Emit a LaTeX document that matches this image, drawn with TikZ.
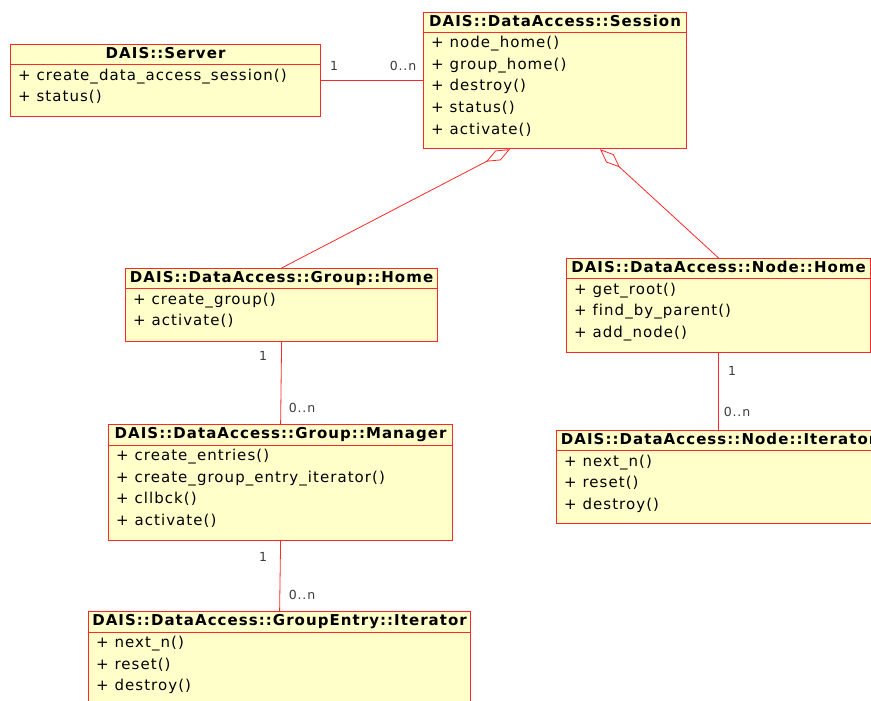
\documentclass[tikz,border=0pt]{standalone}
\usepackage{fontspec}
\setmainfont[LetterSpace=7, Ligatures=NoCommon]{DejaVu Sans}
\usetikzlibrary{arrows.meta,calc}

\definecolor{umlred}{RGB}{255,40,40}
\definecolor{umlfill}{RGB}{255,255,202}
\definecolor{multgray}{RGB}{60,60,60}

\begin{document}
\begin{tikzpicture}[x=1pt, y=-1pt,
    classbox/.style={draw=umlred, fill=umlfill, line width=1.2pt, anchor=north west, inner sep=0pt},
    classname/.style={font=\fontsize{15}{18}\selectfont\bfseries, anchor=base, inner sep=0pt},
    classop/.style={font=\fontsize{15}{18}\selectfont, anchor=base west, inner sep=0pt},
    sepline/.style={draw=umlred, line width=1.2pt},
    assoc/.style={draw=umlred, line width=0.8pt},
    mult/.style={font=\fontsize{12.5}{15}\selectfont, text=multgray, inner sep=0pt}]

	\useasboundingbox (0,0) rectangle (871,701);
	\clip (0,0) rectangle (871,701);

	% Server
	\node[classbox, minimum width=310pt, minimum height=72pt] (server) at (10,44) {};
	\node[classname] (server-name) at ($(server.north)+(0,14.5)$) {DAIS::Server};
	\draw[sepline] ($(server.north west)+(0,20.5)$) -- ($(server.north east)+(0,20.5)$);
	\foreach \op [count=\i] in {create\_data\_access\_session(), status()}
		\node[classop] (server-op\i) at ($(server.north west)+(8,{36.5+21.5*(\i-1)})$) {+ \op};

	% Session
	\node[classbox, minimum width=263pt, minimum height=136pt] (session) at (423,12) {};
	\node[classname] (session-name) at ($(session.north)+(0,14.5)$) {DAIS::DataAccess::Session};
	\draw[sepline] ($(session.north west)+(0,20.5)$) -- ($(session.north east)+(0,20.5)$);
	\foreach \op [count=\i] in {node\_home(), group\_home(), destroy(), status(), activate()}
		\node[classop] (session-op\i) at ($(session.north west)+(8,{36+21.5*(\i-1)})$) {+ \op};

	% Group home
	\node[classbox, minimum width=312pt, minimum height=73pt] (grouphome) at (125,268) {};
	\node[classname] (grouphome-name) at ($(grouphome.north)+(0,14.5)$) {DAIS::DataAccess::Group::Home};
	\draw[sepline] ($(grouphome.north west)+(0,20.5)$) -- ($(grouphome.north east)+(0,20.5)$);
	\foreach \op [count=\i] in {create\_group(), activate()}
		\node[classop] (grouphome-op\i) at ($(grouphome.north west)+(8,{36+21.5*(\i-1)})$) {+ \op};

	% Node home
	\node[classbox, minimum width=304pt, minimum height=94pt] (nodehome) at (566,258) {};
	\node[classname] (nodehome-name) at ($(nodehome.north)+(0,14.5)$) {DAIS::DataAccess::Node::Home};
	\draw[sepline] ($(nodehome.north west)+(0,20.5)$) -- ($(nodehome.north east)+(0,20.5)$);
	\foreach \op [count=\i] in {get\_root(), find\_by\_parent(), add\_node()}
		\node[classop] (nodehome-op\i) at ($(nodehome.north west)+(8,{36+21.5*(\i-1)})$) {+ \op};

	% Group manager
	\node[classbox, minimum width=344pt, minimum height=116pt] (manager) at (108,424) {};
	\node[classname] (manager-name) at ($(manager.north)+(0,14.5)$) {DAIS::DataAccess::Group::Manager};
	\draw[sepline] ($(manager.north west)+(0,21.5)$) -- ($(manager.north east)+(0,21.5)$);
	\foreach \op [count=\i] in {create\_entries(), create\_group\_entry\_iterator(), cllbck(), activate()}
		\node[classop] (manager-op\i) at ($(manager.north west)+(8,{36.5+21.5*(\i-1)})$) {+ \op};

	% Node iterator (runs off the right edge)
	\node[classbox, minimum width=324pt, minimum height=93pt] (nodeiter) at (556,430) {};
	\node[classname] (nodeiter-name) at ($(nodeiter.north)+(0,14.5)$) {DAIS::DataAccess::Node::Iterator};
	\draw[sepline] ($(nodeiter.north west)+(0,20.5)$) -- ($(nodeiter.north east)+(0,20.5)$);
	\foreach \op [count=\i] in {next\_n(), reset(), destroy()}
		\node[classop] (nodeiter-op\i) at ($(nodeiter.north west)+(8,{36+21.5*(\i-1)})$) {+ \op};

	% Group entry iterator (runs off the bottom)
	\node[classbox, minimum width=382pt, minimum height=94pt] (geiter) at (88,611) {};
	\node[classname] (geiter-name) at ($(geiter.north)+(0,14.5)$) {DAIS::DataAccess::GroupEntry::Iterator};
	\draw[sepline] ($(geiter.north west)+(0,21.5)$) -- ($(geiter.north east)+(0,21.5)$);
	\foreach \op [count=\i] in {next\_n(), reset(), destroy()}
		\node[classop] (geiter-op\i) at ($(geiter.north west)+(8,{36.5+21.5*(\i-1)})$) {+ \op};

	% Associations
	\draw[assoc] (server.east) -- (server.east -| session.west);
	\draw[assoc] (grouphome.south) -- (manager.north);
	\draw[assoc] (manager.south) -- (geiter.north);
	\draw[assoc] (nodehome.south) -- (nodeiter.north);

	% Aggregations at the session
	\draw[assoc, {Diamond[open, length=27pt, width=11pt]}-] ($(session.south west)+(87,0)$) -- (grouphome.north);
	\draw[assoc, {Diamond[open, length=27pt, width=11pt]}-] ($(session.south west)+(177,0)$) -- (nodehome.north);

	% Multiplicities
	\node[mult] (server-m1) at (334,66) {1};
	\node[mult] (session-mn) at (403,66) {0..n};
	\node[mult] (grouphome-m1) at (263,356) {1};
	\node[mult] (manager-mn) at (302,408) {0..n};
	\node[mult] (manager-m1) at (263,557) {1};
	\node[mult] (geiter-mn) at (302,595) {0..n};
	\node[mult] (nodehome-m1) at (732,371) {1};
	\node[mult] (nodeiter-mn) at (737,412) {0..n};
\end{tikzpicture}
\end{document}
